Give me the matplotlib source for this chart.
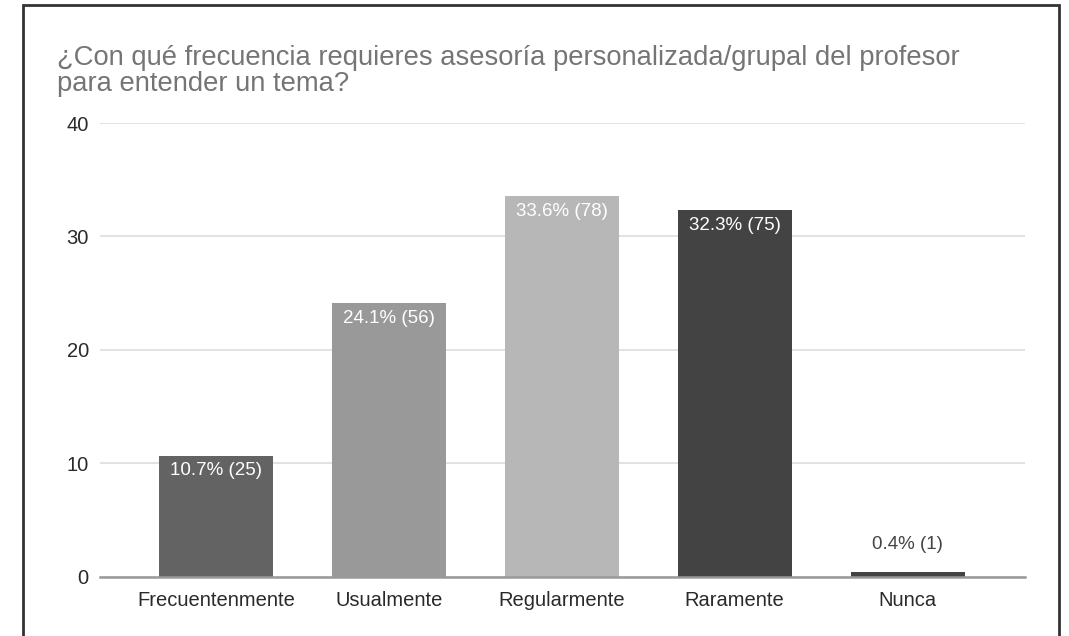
import matplotlib
matplotlib.use("Agg")
import matplotlib.pyplot as plt
from matplotlib.patches import Rectangle

# ── Data ───────────────────────────────────────────────────────────────────────
categories = ["Frecuentenmente", "Usualmente", "Regularmente", "Raramente", "Nunca"]
percents   = [10.7, 24.1, 33.6, 32.3, 0.4]
counts     = [25, 56, 78, 75, 1]
y_ticks    = [0, 10, 20, 30, 40]
title      = ("¿Con qué frecuencia requieres asesoría personalizada/grupal del profesor\n"
              "para entender un tema?")

BAR_COLORS = ["#636363", "#999999", "#b7b7b7", "#434343", "#434343"]

plt.rcParams["font.family"] = ["Liberation Sans", "DejaVu Sans"]

fig = plt.figure(figsize=(10.69, 6.36), dpi=100)
ax = fig.add_axes([0.0935, 0.0928, 0.8655, 0.7138])

x = range(len(categories))
bars = ax.bar(x, percents, width=0.66, color=BAR_COLORS, zorder=3)

for bar, p, c in zip(bars, percents, counts):
    label = f"{p}% ({c})"
    cx = bar.get_x() + bar.get_width() / 2
    if p > 5:
        ax.annotate(label, (cx, p), xytext=(0, -5), textcoords="offset points",
                    ha="center", va="top", color="white", fontsize=13.5)
    else:
        ax.annotate(label, (cx, p), xytext=(0, 14), textcoords="offset points",
                    ha="center", va="bottom", color="#444444", fontsize=13.5)

ax.set_xlim(-0.67, 4.68)
ax.set_ylim(0, 40)
ax.set_yticks(y_ticks)
ax.set_xticks(list(x))
ax.set_xticklabels(categories)
ax.tick_params(axis="both", length=0, labelsize=14.5, colors="#2a2a2a")
ax.tick_params(axis="y", pad=8)
ax.tick_params(axis="x", pad=10)
ax.grid(True, axis="y", color="#dddddd", linewidth=1.2, zorder=0)
for s in ["top", "right", "left"]:
    ax.spines[s].set_visible(False)
ax.spines["bottom"].set_color("#999999")
ax.spines["bottom"].set_linewidth(1.8)
ax.spines["bottom"].set_zorder(4)

fig.text(57 / 1069, 1 - 45 / 636, title, ha="left", va="top",
         fontsize=19.7, color="#757575", linespacing=0.98)

# outer frame
fig.patches.append(Rectangle((23 / 1069, -0.05), (1059 - 23) / 1069, 1.05 - 5 / 636,
                             transform=fig.transFigure, fill=False,
                             edgecolor="#333333", linewidth=2))

fig.savefig("out.png", dpi=100)
